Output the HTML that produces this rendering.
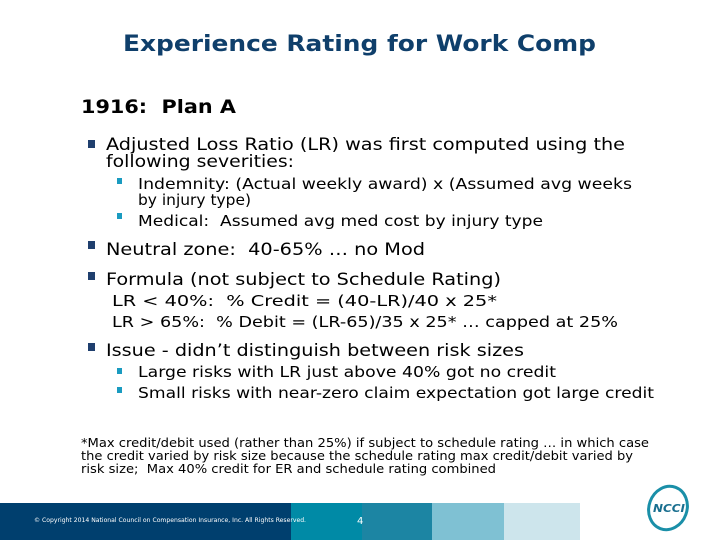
<!DOCTYPE html>
<html><head><meta charset="utf-8"><style>
html,body{margin:0;padding:0;background:#fff;}
svg{display:block;}
text{font-family:"DejaVu Sans","Liberation Sans",sans-serif;white-space:pre;}
</style></head><body>
<svg width="720" height="540" viewBox="0 0 720 540" xml:space="preserve">
<text x="123" y="51" font-size="22" font-weight="bold" fill="#0f3f6b" textLength="473" lengthAdjust="spacingAndGlyphs">Experience Rating for Work Comp</text>
<text x="81" y="113" font-size="19" font-weight="bold" fill="#000" textLength="155" lengthAdjust="spacingAndGlyphs">1916:  Plan A</text>

<g fill="#000">
<rect x="88" y="140" width="7" height="8" fill="#1f3f6e"/>
<text x="106" y="150" font-size="17" textLength="519" lengthAdjust="spacingAndGlyphs">Adjusted Loss Ratio (LR) was first computed using the</text>
<text x="106" y="167" font-size="17" textLength="188" lengthAdjust="spacingAndGlyphs">following severities:</text>
<rect x="117" y="178" width="5" height="6" fill="#1a9bc0"/>
<text x="138" y="189" font-size="15" textLength="494" lengthAdjust="spacingAndGlyphs">Indemnity: (Actual weekly award) x (Assumed avg weeks</text>
<text x="138" y="205" font-size="15" textLength="113" lengthAdjust="spacingAndGlyphs">by injury type)</text>
<rect x="117" y="213" width="5" height="6" fill="#1a9bc0"/>
<text x="138" y="226" font-size="15" textLength="405" lengthAdjust="spacingAndGlyphs">Medical:  Assumed avg med cost by injury type</text>
<rect x="88" y="241" width="7" height="8" fill="#1f3f6e"/>
<text x="106" y="255" font-size="17" textLength="319" lengthAdjust="spacingAndGlyphs">Neutral zone:  40-65% … no Mod</text>
<rect x="88" y="272" width="7" height="8" fill="#1f3f6e"/>
<text x="106" y="285" font-size="17" textLength="395" lengthAdjust="spacingAndGlyphs">Formula (not subject to Schedule Rating)</text>
<text x="112" y="306" font-size="15" textLength="385" lengthAdjust="spacingAndGlyphs">LR &lt; 40%:  % Credit = (40-LR)/40 x 25*</text>
<text x="112" y="327" font-size="15" textLength="506" lengthAdjust="spacingAndGlyphs">LR &gt; 65%:  % Debit = (LR-65)/35 x 25* … capped at 25%</text>
<rect x="88" y="343" width="7" height="8" fill="#1f3f6e"/>
<text x="106" y="356" font-size="17" textLength="418" lengthAdjust="spacingAndGlyphs">Issue - didn’t distinguish between risk sizes</text>
<rect x="117" y="368" width="5" height="6" fill="#1a9bc0"/>
<text x="138" y="377" font-size="15" textLength="418" lengthAdjust="spacingAndGlyphs">Large risks with LR just above 40% got no credit</text>
<rect x="117" y="387" width="5" height="6" fill="#1a9bc0"/>
<text x="138" y="398" font-size="15" textLength="516" lengthAdjust="spacingAndGlyphs">Small risks with near-zero claim expectation got large credit</text>
</g>

<g fill="#000">
<text x="81" y="447" font-size="12" textLength="568" lengthAdjust="spacingAndGlyphs">*Max credit/debit used (rather than 25%) if subject to schedule rating … in which case</text>
<text x="81" y="460" font-size="12" textLength="552" lengthAdjust="spacingAndGlyphs">the credit varied by risk size because the schedule rating max credit/debit varied by</text>
<text x="81" y="473" font-size="12" textLength="415" lengthAdjust="spacingAndGlyphs">risk size;  Max 40% credit for ER and schedule rating combined</text>
</g>

<g>
<rect x="0" y="503" width="292" height="37" fill="#003f6e"/>
<rect x="291" y="503" width="72" height="37" fill="#008aa6"/>
<rect x="362" y="503" width="71" height="37" fill="#1c85a3"/>
<rect x="432" y="503" width="73" height="37" fill="#7fc1d3"/>
<rect x="504" y="503" width="76" height="37" fill="#cde5ec"/>
<text x="34" y="522" font-size="6" fill="#fff" textLength="272" lengthAdjust="spacingAndGlyphs">© Copyright 2014 National Council on Compensation Insurance, Inc. All Rights Reserved.</text>
<text x="357" y="524" font-size="10" fill="#fff">4</text>
</g>

<g>
<ellipse cx="668" cy="508" rx="19" ry="22" fill="none" stroke="#1a8fa8" stroke-width="3" transform="rotate(20 668 508)"/>
<text x="653" y="512" font-size="11" font-style="italic" font-weight="bold" fill="#1a6f8f" textLength="32" lengthAdjust="spacingAndGlyphs">NCCI</text>
</g>
</svg>
</body></html>
